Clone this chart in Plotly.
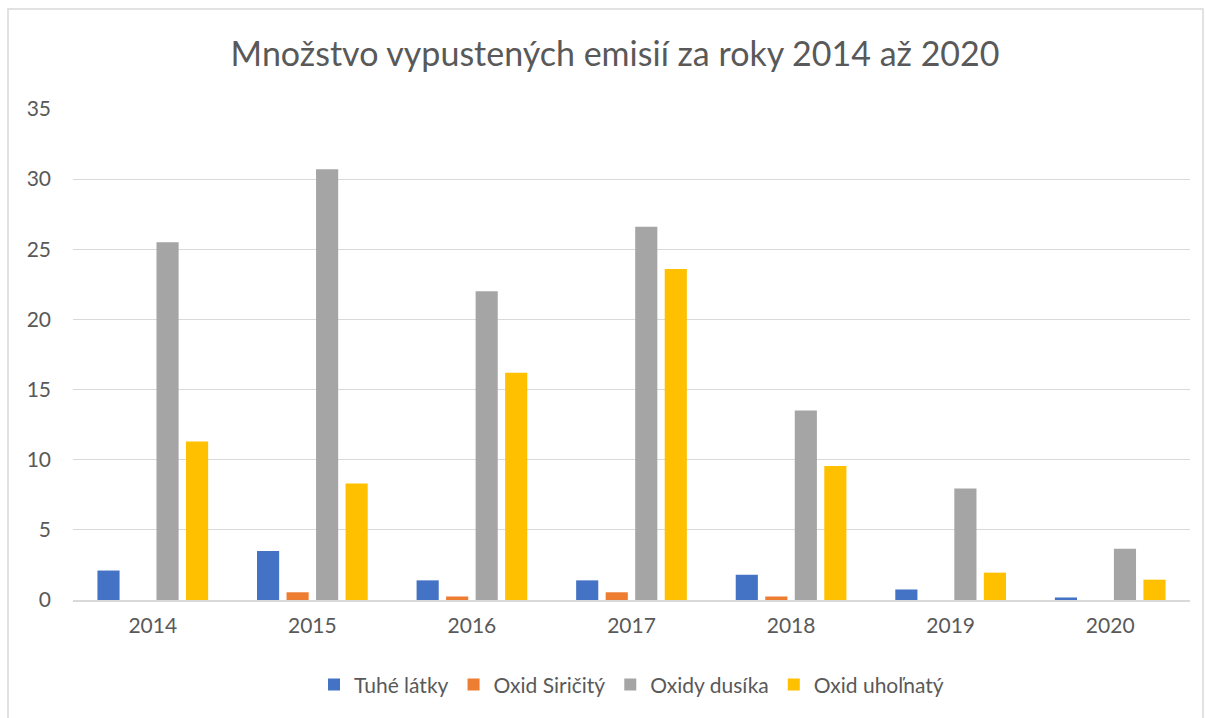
import plotly.graph_objects as go

years = ["2014", "2015", "2016", "2017", "2018", "2019", "2020"]
tuhe_latky = [2.1, 3.5, 1.4, 1.4, 1.8, 0.75, 0.18]
oxid_siricity = [0.0, 0.55, 0.25, 0.55, 0.25, 0.0, 0.0]
oxidy_dusika = [25.5, 30.7, 22.0, 26.6, 13.5, 7.95, 3.65]
oxid_uholnaty = [11.3, 8.3, 16.2, 23.6, 9.55, 1.95, 1.45]

series = [
    ("Tuhé látky", tuhe_latky, "#4472C4"),
    ("Oxid Siričitý", oxid_siricity, "#ED7D31"),
    ("Oxidy dusíka", oxidy_dusika, "#A5A5A5"),
    ("Oxid uhoľnatý", oxid_uholnaty, "#FFC000"),
]

fig = go.Figure()
for name, vals, color in series:
    fig.add_trace(go.Bar(x=years, y=vals, name=name, marker_color=color,
                         marker_line_width=0))

font_family = "Lato, 'Open Sans', sans-serif"
fig.update_layout(
    width=1206, height=718,
    margin=dict(l=73, r=16, t=109, b=118),
    paper_bgcolor="white", plot_bgcolor="white",
    barmode="group", bargap=0.26, bargroupgap=0.25,
    title=dict(text="Množstvo vypustených emisií za roky 2014 až 2020",
               x=0.51, xanchor="center", y=1 - 54 / 718, yanchor="middle",
               font=dict(family=font_family, size=34, color="#595959")),
    font=dict(family=font_family, color="#595959"),
    xaxis=dict(showgrid=False, showline=True, linecolor="#D9D9D9", linewidth=1.5,
               ticks="", tickfont=dict(size=21, color="#595959"), ticklabelstandoff=6),
    yaxis=dict(range=[0, 35], dtick=5, showgrid=True, gridcolor="#D9D9D9",
               gridwidth=1, zeroline=False, showline=False, ticks="",
               tickfont=dict(size=21, color="#595959"), ticklabelstandoff=21),
    legend=dict(orientation="h", x=0.5, xanchor="center", y=-0.173,
                yanchor="middle", font=dict(size=21, color="#595959"),
                itemwidth=30, traceorder="normal"),
    showlegend=True,
    shapes=[dict(type="rect", xref="paper", yref="paper",
                 x0=(8 - 73) / 1117, x1=(1203 - 73) / 1117,
                 y0=(600 - 730) / 491, y1=(600 - 9) / 491,
                 line=dict(color="#D9D9D9", width=1.5), layer="below")],
)

fig.write_html("out.html")
